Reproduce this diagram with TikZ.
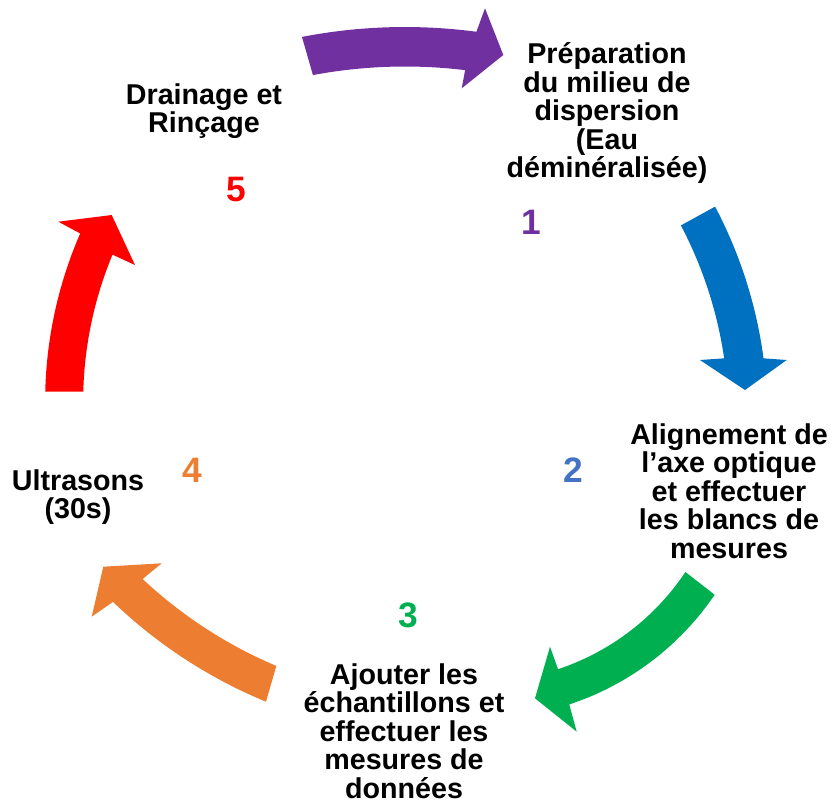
\documentclass[tikz,border=0pt]{standalone}
\usepackage{fontspec}
\setmainfont{Liberation Sans}
\definecolor{cpurple}{HTML}{7030A0}
\definecolor{cblue}{HTML}{0070C0}
\definecolor{cblue2}{HTML}{4472C4}
\definecolor{cgreen}{HTML}{00B050}
\definecolor{corange}{HTML}{ED7D31}
\definecolor{cred}{HTML}{FF0000}
\begin{document}
\begin{tikzpicture}[x=0.75pt,y=-0.75pt,
  steptext/.style={align=center,inner sep=0pt,font=\bfseries\fontsize{21.5}{21.4}\selectfont},
  stepnum/.style={inner sep=0pt,font=\bfseries\fontsize{26.5}{28}\selectfont}]
\useasboundingbox (0,0) rectangle (835,804);

% curved block arrows: outer arc, head, inner arc back to the tail
\fill[cpurple] ([shift={(405,567)}]-101.0:540) arc[start angle=-101.0, end angle=-82.4, radius=540]
  -- (485,8.3) -- (503.3,55) -- (461.7,88.3)
  -- ([shift={(405,567)}]-83.1:500.5) arc[start angle=-83.1, end angle=-100.6, radius=500.5] -- cycle;
\fill[cblue] ([shift={(315,418)}]-27.85:452.5) arc[start angle=-27.85, end angle=-7.58, radius=452.5]
  -- (786.7,360) -- (745,390) -- (700,360)
  -- ([shift={(315,418)}]-8.3:413.5) arc[start angle=-8.3, end angle=-27.76, radius=413.5] -- cycle;
\fill[cgreen] ([shift={(480.6,435.7)}]34.2:283) arc[start angle=34.2, end angle=71.74, radius=283]
  -- (576.7,731.7) -- (535,698.3) -- (550,646.7)
  -- ([shift={(480.6,435.7)}]71.65:246) arc[start angle=71.65, end angle=33.64, radius=246] -- cycle;
\fill[corange] ([shift={(453.6,246.9)}]112.42:492) arc[start angle=112.42, end angle=133.82, radius=492]
  -- (91.7,616.7) -- (103.3,566.7) -- (161.7,563.3)
  -- ([shift={(453.6,246.9)}]133.12:455) arc[start angle=133.12, end angle=112.93, radius=455] -- cycle;
\fill[cred] ([shift={(467.1,401.9)}]181.38:422) arc[start angle=181.38, end angle=203.53, radius=422]
  -- (58.3,221.7) -- (111.7,215) -- (135,265)
  -- ([shift={(467.1,401.9)}]202.55:384) arc[start angle=202.55, end angle=181.52, radius=384] -- cycle;

% step labels
\node[steptext] (t1) at (607,113) {Préparation\\du milieu de\\dispersion\\(Eau\\déminéralisée)};
\node[steptext] (t2) at (729,491) {Alignement de\\l’axe optique\\et effectuer\\les blancs de\\mesures};
\node[steptext] (t3) at (404,731) {Ajouter les\\échantillons et\\effectuer les\\mesures de\\données};
\node[steptext] (t4) at (78,497) {Ultrasons\\(30s)};
\node[steptext] (t5) at (204,111) {Drainage et\\Rinçage};

% step numbers
\node[stepnum,text=cpurple] (n1) at (531,222) {1};
\node[stepnum,text=cblue2] (n2) at (573,470) {2};
\node[stepnum,text=cgreen] (n3) at (408,615) {3};
\node[stepnum,text=corange] (n4) at (192,470) {4};
\node[stepnum,text=cred] (n5) at (236,190) {5};
\end{tikzpicture}
\end{document}
